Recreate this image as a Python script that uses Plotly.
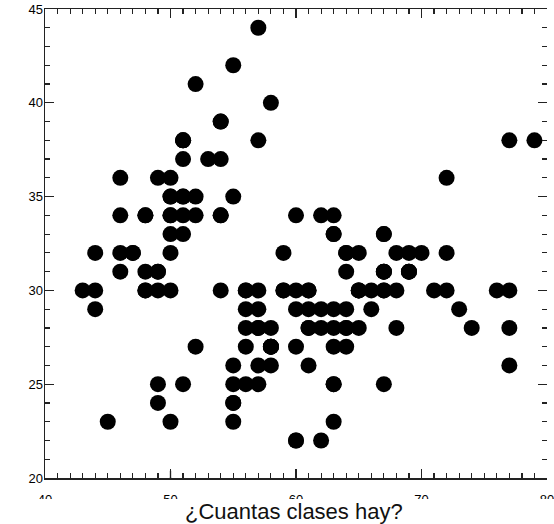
import plotly.graph_objects as go

# Iris: sepal length (x10) vs sepal width (x10)
longitud_sepalo = [
    51, 49, 47, 46, 50, 54, 46, 50, 44, 49, 54, 48, 48, 43, 58, 57, 54, 51, 57, 51,
    54, 51, 46, 51, 48, 50, 50, 52, 52, 47, 48, 54, 52, 55, 49, 50, 55, 49, 44, 51,
    50, 45, 44, 50, 51, 48, 51, 46, 53, 50,
    70, 64, 69, 55, 65, 57, 63, 49, 66, 52, 50, 59, 60, 61, 56, 67, 56, 58, 62, 56,
    59, 61, 63, 61, 64, 66, 68, 67, 60, 57, 55, 55, 58, 60, 54, 60, 67, 63, 56, 55,
    55, 61, 58, 50, 56, 57, 57, 62, 51, 57,
    63, 58, 71, 63, 65, 76, 49, 73, 67, 72, 65, 64, 68, 57, 58, 64, 65, 77, 77, 60,
    69, 56, 77, 63, 67, 72, 62, 61, 64, 72, 74, 79, 64, 63, 61, 77, 63, 64, 60, 69,
    67, 69, 58, 68, 67, 67, 63, 65, 62, 59,
]
ancho_sepalo = [
    35, 30, 32, 31, 36, 39, 34, 34, 29, 31, 37, 34, 30, 30, 40, 44, 39, 35, 38, 38,
    34, 37, 36, 33, 34, 30, 34, 35, 34, 32, 31, 34, 41, 42, 31, 32, 35, 36, 30, 34,
    35, 23, 32, 35, 38, 30, 38, 32, 37, 33,
    32, 32, 31, 23, 28, 28, 33, 24, 29, 27, 20, 30, 22, 29, 29, 31, 30, 27, 22, 25,
    32, 28, 25, 28, 29, 30, 28, 30, 29, 26, 24, 24, 27, 27, 30, 34, 31, 23, 30, 25,
    26, 30, 26, 23, 27, 30, 29, 29, 25, 28,
    33, 27, 30, 29, 30, 30, 25, 29, 25, 36, 32, 27, 30, 25, 28, 32, 30, 38, 26, 22,
    32, 28, 28, 27, 33, 32, 28, 30, 28, 30, 28, 38, 28, 28, 26, 30, 34, 31, 30, 31,
    31, 31, 27, 32, 33, 30, 25, 30, 34, 30,
]

x_ticks = [40, 50, 60, 70, 80]
y_ticks = [20, 25, 30, 35, 40, 45]
x_range = [40, 80]
y_range = [20, 45]
titulo = "¿Cuantas clases hay?"

# points strictly inside the frame drawn as discs, points on the frame edge as a small mark
xi = [x for x, y in zip(longitud_sepalo, ancho_sepalo) if y > y_range[0]]
yi = [y for x, y in zip(longitud_sepalo, ancho_sepalo) if y > y_range[0]]
xe = [x for x, y in zip(longitud_sepalo, ancho_sepalo) if y <= y_range[0]]
ye = [y for x, y in zip(longitud_sepalo, ancho_sepalo) if y <= y_range[0]]

fig = go.Figure()
fig.add_trace(go.Scatter(
    x=xi, y=yi, mode="markers",
    marker=dict(size=16, color="black", line=dict(width=0)),
    showlegend=False, cliponaxis=True, hoverinfo="skip",
))
fig.add_trace(go.Scatter(
    x=xe, y=ye, mode="markers",
    marker=dict(size=9, symbol="y-up-open", color="black", line=dict(width=1.3, color="black")),
    showlegend=False, cliponaxis=True, hoverinfo="skip",
))
fig.add_trace(go.Scatter(x=[], y=[], yaxis="y2", showlegend=False))

tickfont = dict(family="Liberation Sans, Arial, sans-serif", size=13, color="black")

fig.update_layout(
    width=554, height=524, autosize=False,
    margin=dict(l=45, r=0, t=9, b=46, pad=0),
    plot_bgcolor="white", paper_bgcolor="white",
    xaxis=dict(
        range=x_range, tickvals=x_ticks, ticktext=[str(v) for v in x_ticks],
        showgrid=False, zeroline=False,
        showline=True, linecolor="#222", linewidth=1.5, mirror="ticks",
        ticks="inside", ticklen=9, tickwidth=1.2, tickcolor="#222",
        minor=dict(dtick=1, tick0=40, ticks="inside", ticklen=5, tickwidth=1.2, tickcolor="#222", showgrid=False),
        tickfont=tickfont, ticklabeloverflow="allow", ticklabelstandoff=9,
    ),
    yaxis=dict(
        range=y_range, tickvals=y_ticks, ticktext=[str(v) for v in y_ticks],
        showgrid=False, zeroline=False,
        showline=True, linecolor="#222", linewidth=1.5, mirror=False,
        ticks="inside", ticklen=9, tickwidth=1.2, tickcolor="#222",
        minor=dict(dtick=1, tick0=20, ticks="inside", ticklen=5, tickwidth=1.2, tickcolor="#222", showgrid=False),
        tickfont=tickfont, ticklabeloverflow="allow", ticklabelstandoff=-2,
    ),
    yaxis2=dict(
        range=y_range, overlaying="y", side="right", anchor="x",
        showgrid=False, zeroline=False, showline=False, showticklabels=False,
        tickvals=y_ticks, ticks="inside", ticklen=9, tickwidth=1.2, tickcolor="#222",
        minor=dict(dtick=1, tick0=20, ticks="inside", ticklen=5, tickwidth=1.2, tickcolor="#222", showgrid=False),
    ),
    shapes=[dict(
        type="rect", xref="paper", yref="paper", layer="above",
        x0=-0.2, x1=1.2, y0=-0.3, y1=(478 - 499) / 469,
        fillcolor="white", line=dict(width=0),
    )],
    annotations=[dict(
        text=titulo, xref="paper", yref="paper", x=0.497, y=(478 - 511) / 469,
        xanchor="center", yanchor="middle", showarrow=False,
        font=dict(family="Liberation Sans, Arial, sans-serif", size=22, color="#111"),
    )],
)

fig.write_html(
    "out.html",
    config={"displayModeBar": False, "staticPlot": True},
    post_script="document.body.style.margin='0';document.body.style.overflow='hidden';",
)
